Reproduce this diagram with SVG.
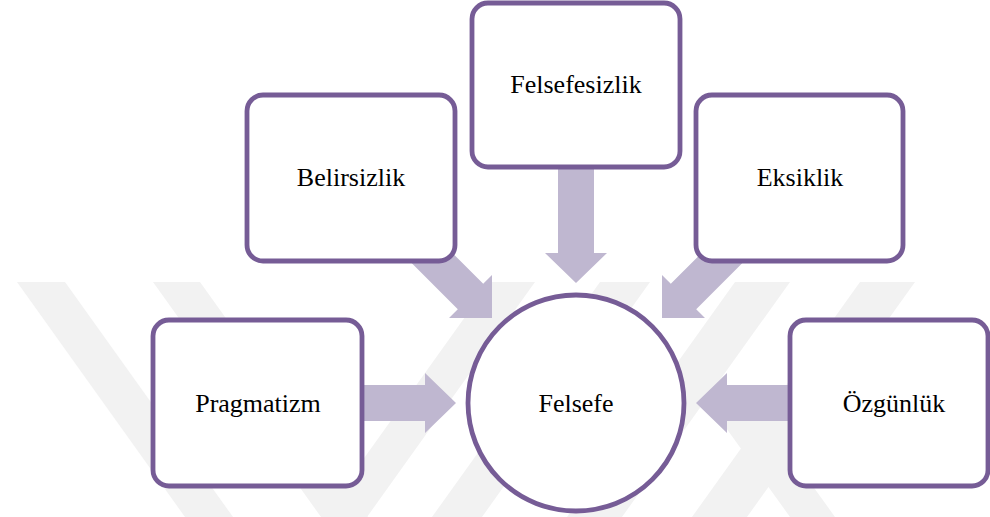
<svg xmlns="http://www.w3.org/2000/svg" width="990" height="517" viewBox="0 0 990 517">
<defs>
<style>
.wm{fill:#f2f2f2}
.arr{fill:#bfb7d0}
.box{fill:#ffffff;stroke:#765c96;stroke-width:4.8}
.lbl{fill:#000000;text-anchor:middle;font-size:26px;font-family:"Liberation Serif","Times New Roman",serif}
</style>
<clipPath id="wmclip"><rect x="0" y="282" width="990" height="235"/></clipPath>
</defs>
<rect width="990" height="517" fill="#ffffff"/>
<g id="watermark" clip-path="url(#wmclip)">
<polygon class="wm" points="17,282 65,282 233,517 185,517"/>
<polygon class="wm" points="153,282 200,282 368,517 321,517"/>
<polygon class="wm" points="490,282 535,282 367,517 322,517"/>
<polygon class="wm" points="600,282 650,282 482,517 432,517"/>
<polygon class="wm" points="735,282 790,282 622,517 567,517"/>
<polygon class="wm" points="860,282 915,282 747,517 692,517"/>
<polygon class="wm" points="706,400 751,400 835,517 790,517"/>
</g>
<g id="connectors">
<polygon class="arr" points="362,385 425,385 425,373 456,403 425,433 425,421 362,421"/>
<polygon class="arr" points="790,385 727,385 727,373 696,403 727,433 727,421 790,421"/>
<polygon class="arr" points="558,160 594,160 594,253 607,253 576,283 545,253 558,253"/>
<polygon class="arr" points="405.4,206 483.2,283.8 492,275 492,318 449,318 457.8,309.2 380,231.4"/>
<polygon class="arr" points="748.6,206 670.8,283.8 662,275 662,318 705,318 696.2,309.2 774,231.4"/>
</g>
<g id="node-felsefesizlik"><rect class="box" x="472" y="3" width="208" height="164" rx="16"/><text class="lbl" x="576" y="93">Felsefesizlik</text></g>
<g id="node-belirsizlik"><rect class="box" x="247" y="95" width="208" height="166" rx="16"/><text class="lbl" x="351" y="186">Belirsizlik</text></g>
<g id="node-eksiklik"><rect class="box" x="696" y="95" width="207" height="166" rx="16"/><text class="lbl" x="800" y="186">Eksiklik</text></g>
<g id="node-pragmatizm"><rect class="box" x="153" y="320" width="209" height="166" rx="16"/><text class="lbl" x="258" y="412">Pragmatizm</text></g>
<g id="node-ozgunluk"><rect class="box" x="790" y="320" width="198" height="166" rx="16"/><text class="lbl" x="894" y="412">Özgünlük</text></g>
<g id="node-felsefe"><circle class="box" cx="576" cy="403" r="108"/><text class="lbl" x="576" y="412">Felsefe</text></g>
</svg>
